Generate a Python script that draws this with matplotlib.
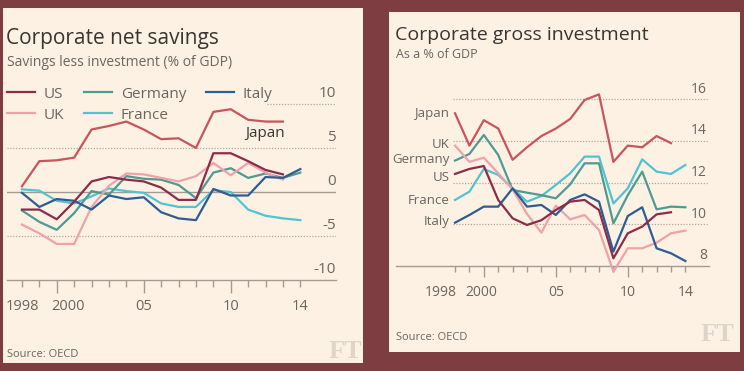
import matplotlib
matplotlib.use("Agg")
import matplotlib.pyplot as plt
import matplotlib.transforms as mtransforms
from matplotlib.patches import Rectangle
from matplotlib.ticker import FixedLocator, FuncFormatter

# ---------------- data ----------------
years = list(range(1998, 2015))
years13 = list(range(1998, 2014))

# Corporate net savings (% of GDP)
ns_japan = [0.65, 3.5, 3.6, 3.9, 7.1, 7.5, 8.0, 7.1, 6.0, 6.1, 5.0, 9.1, 9.4, 8.2, 8.0, 8.0]
ns_us = [-2.0, -2.0, -3.1, -1.1, 1.2, 1.7, 1.4, 1.2, 0.5, -0.9, -0.9, 4.4, 4.4, 3.5, 2.5, 2.0]
ns_uk = [-3.7, -4.7, -5.9, -5.9, -1.7, 0.7, 2.1, 2.0, 1.6, 1.2, 1.8, 3.3, 1.9, 3.3, 2.2, 1.4]
ns_germany = [-2.1, -3.4, -4.3, -2.4, 0.1, -0.3, 1.8, 1.5, 1.4, 0.8, -0.7, 2.2, 2.7, 1.6, 2.1, 1.6, 2.2]
ns_france = [0.3, 0.15, -1.0, -1.3, -0.5, 0.4, 0.1, -0.1, -1.3, -1.7, -1.7, 0.2, 0.0, -2.0, -2.7, -3.0, -3.2]
ns_italy = [-0.1, -1.7, -0.8, -1.0, -2.0, -0.4, -0.8, -0.6, -2.3, -3.0, -3.2, 0.35, -0.4, -0.4, 1.7, 1.6, 2.6]

# Corporate gross investment (% of GDP)
gi_japan = [15.33, 13.78, 15.0, 14.6, 13.1, 13.7, 14.24, 14.6, 15.06, 15.97, 16.24, 13.0, 13.78, 13.7, 14.24, 13.9]
gi_uk = [13.78, 13.0, 13.2, 12.45, 11.68, 10.5, 9.6, 10.9, 10.24, 10.45, 9.73, 7.73, 8.85, 8.85, 9.12, 9.57, 9.7]
gi_germany = [13.06, 13.38, 14.29, 13.33, 11.65, 11.52, 11.4, 11.25, 11.92, 12.93, 12.93, 10.05, 11.4, 12.53, 10.72, 10.85, 10.82]
gi_us = [12.42, 12.66, 12.8, 11.17, 10.29, 9.97, 10.2, 10.69, 11.09, 11.17, 10.69, 8.37, 9.57, 9.89, 10.48, 10.58]
gi_france = [11.17, 11.57, 12.66, 12.37, 11.73, 11.09, 11.36, 11.89, 12.45, 13.25, 13.25, 11.0, 11.73, 13.12, 12.53, 12.42, 12.85]
gi_italy = [10.08, 10.45, 10.85, 10.85, 11.73, 10.85, 10.93, 10.45, 11.17, 11.44, 11.09, 8.69, 10.4, 10.82, 8.85, 8.61, 8.24]

xtick_major = [2000, 2005, 2010]
xtick_labels = {1998: "1998", 2000: "2000", 2005: "05", 2010: "10", 2014: "14"}
ns_yticks = [10, 5, 0, -5, -10]
gi_yticks = [16, 14, 12, 10, 8]

# ---------------- style ----------------
FONT = ["Open Sans", "DejaVu Sans"]
plt.rcParams["font.family"] = FONT
BG = "#7d3d41"
PANEL = "#fdf1e4"
TXT = "#3a3532"
GREY = "#6b6560"
AXC = "#a39b92"
GRIDC = "#b3a89c"
C = {"Japan": "#c9545b", "US": "#8c2c48", "UK": "#eea2a9",
     "Germany": "#4f9a91", "France": "#52c3d3", "Italy": "#2d5d92"}
LW = 1.6
# vertical nudge (points) of the right-chart name labels
LABEL_DY = {"Japan": 0, "UK": 1, "Germany": 0.5, "US": -2.5, "France": -0.5, "Italy": 0.5}
# horizontal nudge (points) of individual year labels, as in the FT layout
XLAB_DX_L = {"2000": 8}
XLAB_DX_R = {"1998": -10.5, "2000": -2}

W, H = 744, 371
fig = plt.figure(figsize=(W / 100, H / 100), dpi=100, facecolor=BG)


def fx(px):
    return px / W


def fy(py):
    return 1 - py / H


# panels
fig.patches.append(Rectangle((fx(3), fy(363)), fx(363) - fx(3), fy(8) - fy(363),
                             transform=fig.transFigure, facecolor=PANEL, edgecolor="none", zorder=-5))
fig.patches.append(Rectangle((fx(389), fy(352)), fx(740) - fx(389), fy(12) - fy(352),
                             transform=fig.transFigure, facecolor=PANEL, edgecolor="none", zorder=-5))


def style_axis(ax, major_len, minor_len, major_pad, minor_pad, fs):
    ax.set_facecolor("none")
    for s in ["top", "left", "right"]:
        ax.spines[s].set_visible(False)
    ax.spines["bottom"].set_color(AXC)
    ax.spines["bottom"].set_linewidth(1.0)
    ax.xaxis.set_major_locator(FixedLocator(xtick_major))
    ax.xaxis.set_minor_locator(FixedLocator([y for y in years if y not in xtick_major]))
    ax.xaxis.set_major_formatter(FuncFormatter(lambda v, p: xtick_labels.get(int(round(v)), "")))
    ax.xaxis.set_minor_formatter(FuncFormatter(lambda v, p: xtick_labels.get(int(round(v)), "")))
    ax.tick_params(axis="x", which="major", direction="out", length=major_len, width=1.0,
                   color=AXC, labelcolor=GREY, labelsize=fs, pad=major_pad)
    ax.tick_params(axis="x", which="minor", direction="out", length=minor_len, width=1.0,
                   color=AXC, labelcolor=GREY, labelsize=fs, pad=minor_pad)
    ax.set_yticks([])


def nudge_xlabels(ax, shifts):
    for lab in ax.xaxis.get_majorticklabels() + ax.xaxis.get_minorticklabels():
        dx = shifts.get(lab.get_text())
        if dx:
            lab.set_transform(lab.get_transform() +
                              mtransforms.ScaledTranslation(dx / 72, 0, fig.dpi_scale_trans))


# ---------------- left chart ----------------
axL = fig.add_axes([fx(7), fy(280), fx(336) - fx(7), fy(84.6) - fy(280)])
axL.set_xlim(1997.14, 2016.05)
axL.set_ylim(-10, 12.2)
style_axis(axL, 9.5, 5, 4, 8.5, 10.5)

for v in ns_yticks:
    if v == 0:
        axL.axhline(v, color=AXC, lw=1.0, zorder=1)
    elif v == 10:
        axL.axhline(v, xmin=0.79, xmax=1, color=GRIDC, lw=0.9, ls=(0, (1, 1.3)), zorder=1)
    elif v != -10:
        axL.axhline(v, color=GRIDC, lw=0.9, ls=(0, (1, 1.3)), zorder=1)
    axL.text(1.0, v + 0.35, str(v), transform=axL.get_yaxis_transform(), ha="right", va="bottom",
             fontsize=11, color=GREY)

axL.plot(years13, ns_japan, color=C["Japan"], lw=LW, zorder=3)
axL.plot(years, ns_france, color=C["France"], lw=LW, zorder=3)
axL.plot(years, ns_germany, color=C["Germany"], lw=LW, zorder=3)
axL.plot(years13, ns_uk, color=C["UK"], lw=LW, zorder=3)
axL.plot(years, ns_italy, color=C["Italy"], lw=LW, zorder=3)
axL.plot(years13, ns_us, color=C["US"], lw=LW, zorder=4)
axL.annotate("Japan", xy=(years13[-1], ns_japan[-1]), xytext=(1.5, -8.5), textcoords="offset points",
             ha="right", va="center", fontsize=11, color=TXT)

handles = []
for name in ["US", "UK", "Germany", "France", "Italy"]:
    h, = axL.plot([], [], color=C[name], lw=LW, label=name)
    handles.append(h)
leg = axL.legend(handles=handles, ncol=3, loc="upper left", bbox_to_anchor=(fx(7), fy(86.5)),
                 bbox_transform=fig.transFigure, frameon=False, fontsize=11, borderpad=0,
                 borderaxespad=0, handlelength=1.85, handletextpad=0.55, columnspacing=1.3,
                 labelspacing=0.4)
for t in leg.get_texts():
    t.set_color(GREY)

fig.text(fx(6), fy(44), "Corporate net savings", fontsize=15, color=TXT, ha="left", va="baseline")
fig.text(fx(7), fy(66), "Savings less investment (% of GDP)", fontsize=10, color=GREY, ha="left", va="baseline")
fig.text(fx(7), fy(357), "Source: OECD", fontsize=8, color=GREY, ha="left", va="baseline")
fig.text(fx(362), fy(358), "FT", fontsize=19, color="#ddd4ca", ha="right", va="baseline",
         family=["Liberation Serif", "DejaVu Serif"], weight="bold")

# ---------------- right chart ----------------
axR = fig.add_axes([fx(396), fy(278.5), fx(709) - fx(396), fy(82.7) - fy(278.5)])
axR.set_xlim(1993.9, 2015.64)
axR.set_ylim(7.4, 16.8)
style_axis(axR, 8, 4.5, 6, 9.5, 10)
axR.spines["bottom"].set_position(("data", 8))

for v in gi_yticks:
    if v != 8:
        axR.axhline(v, xmin=0.182, xmax=0.997, color=GRIDC, lw=0.9, ls=(0, (1, 1.3)), zorder=1)
    axR.text(0.994, v + 0.13, str(v), transform=axR.get_yaxis_transform(), ha="right", va="bottom",
             fontsize=10, color=GREY)

series_r = [("Japan", years13, gi_japan), ("France", years, gi_france), ("Germany", years, gi_germany),
            ("UK", years, gi_uk), ("Italy", years, gi_italy), ("US", years13, gi_us)]
for name, xs, ys in series_r:
    axR.plot(xs, ys, color=C[name], lw=LW, zorder=3, clip_on=False)
    axR.annotate(name, xy=(xs[0], ys[0]), xytext=(-4, LABEL_DY[name]), textcoords="offset points",
                 ha="right", va="center", fontsize=9.5, color=GREY)

fig.text(fx(395), fy(40), "Corporate gross investment", fontsize=14, color=TXT, ha="left", va="baseline")
fig.text(fx(396), fy(58), "As a % of GDP", fontsize=9, color=GREY, ha="left", va="baseline")
fig.text(fx(396), fy(340), "Source: OECD", fontsize=8, color=GREY, ha="left", va="baseline")
fig.text(fx(734), fy(341), "FT", fontsize=19, color="#ddd4ca", ha="right", va="baseline",
         family=["Liberation Serif", "DejaVu Serif"], weight="bold")

fig.canvas.draw()
nudge_xlabels(axL, XLAB_DX_L)
nudge_xlabels(axR, XLAB_DX_R)

fig.savefig("out.png", dpi=100, facecolor=BG)
